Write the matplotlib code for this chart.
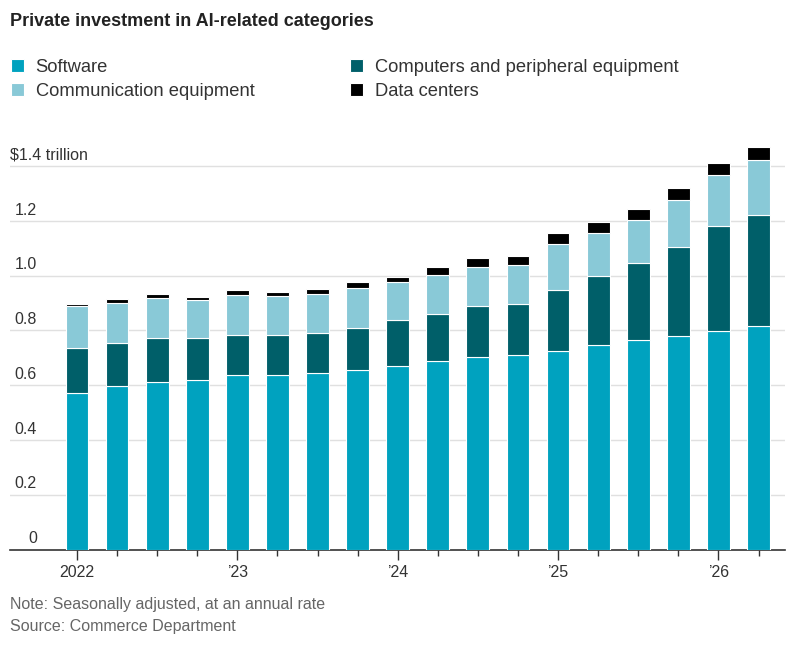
import matplotlib
matplotlib.use("Agg")
import matplotlib.pyplot as plt
import numpy as np

plt.rcParams['font.family'] = ['Liberation Sans Narrow', 'Liberation Sans', 'DejaVu Sans']

# quarterly values, $ trillion (2022 Q1 .. 2026 Q2)
quarters = ['2022', 'Q2', 'Q3', 'Q4', '\u201923', 'Q2', 'Q3', 'Q4', '\u201924', 'Q2', 'Q3', 'Q4',
            '\u201925', 'Q2', 'Q3', 'Q4', '\u201926', 'Q2']
software = [0.573, 0.597, 0.610, 0.619, 0.637, 0.637, 0.646, 0.657, 0.670,
            0.688, 0.702, 0.710, 0.725, 0.747, 0.765, 0.780, 0.798, 0.816]
computers = [0.164, 0.158, 0.163, 0.154, 0.146, 0.146, 0.146, 0.153, 0.168,
             0.173, 0.186, 0.187, 0.222, 0.250, 0.282, 0.326, 0.382, 0.404]
communication = [0.151, 0.146, 0.146, 0.139, 0.147, 0.142, 0.142, 0.146, 0.137,
                 0.141, 0.145, 0.141, 0.168, 0.159, 0.155, 0.169, 0.186, 0.201]
data_centers = [0.009, 0.013, 0.013, 0.011, 0.016, 0.016, 0.017, 0.021, 0.021,
                0.031, 0.032, 0.035, 0.040, 0.040, 0.040, 0.045, 0.045, 0.049]

yticks = [0, 0.2, 0.4, 0.6, 0.8, 1.0, 1.2, 1.4]

c_sw = '#00a2bf'
c_comp = '#005f69'
c_comm = '#89c9d7'
c_dc = '#000000'

fig = plt.figure(figsize=(7.97, 6.45), dpi=100)
ax = fig.add_axes([10 / 797, 1 - 549.5 / 645, 775 / 797, (549.5 - 144.1) / 645])

x = np.arange(len(quarters))
w = 0.57
sw = np.array(software)
cp = np.array(computers)
cm = np.array(communication)
dc = np.array(data_centers)

ekw = dict(edgecolor='white', linewidth=0.8, zorder=3)
b1 = ax.bar(x, sw, w, color=c_sw, label='Software', **ekw)
b2 = ax.bar(x, cp, w, bottom=sw, color=c_comp, label='Computers and peripheral equipment', **ekw)
b3 = ax.bar(x, cm, w, bottom=sw + cp, color=c_comm, label='Communication equipment', **ekw)
b4 = ax.bar(x, dc, w, bottom=sw + cp + cm, color=c_dc, label='Data centers', **ekw)

ax.set_xlim(-1.67, 17.66)
ax.set_ylim(0, 1.48)

# gridlines + labels sitting above them
for v in yticks[1:]:
    ax.axhline(v, color='#e0e0e0', lw=1, zorder=1)
trans = ax.get_yaxis_transform()
for v in yticks:
    if v == 1.4:
        ax.text(0.0, v + 0.012, '$1.4 trillion', transform=trans, ha='left', va='bottom',
                fontsize=11.5, color='#333333')
    else:
        lab = '0' if v == 0 else f'{v:.1f}'
        ax.text(0.0348, v + 0.012, lab, transform=trans, ha='right', va='bottom',
                fontsize=11.5, color='#333333')

for s in ['top', 'right', 'left']:
    ax.spines[s].set_visible(False)
ax.spines['bottom'].set_color('#333333')
ax.spines['bottom'].set_linewidth(1.2)
ax.set_yticks([])

major = [i for i, q in enumerate(quarters) if not q.startswith('Q')]
minor = [i for i, q in enumerate(quarters) if q.startswith('Q')]
ax.set_xticks(major)
ax.set_xticklabels([quarters[i] for i in major], fontsize=11.5, color='#333333')
ax.set_xticks(minor, minor=True)
ax.tick_params(axis='x', which='major', length=7, width=1, color='#333333', pad=4)
ax.tick_params(axis='x', which='minor', length=4, width=1, color='#333333')

fig.text(10 / 797, 1 - 21 / 645, 'Private investment in AI-related categories',
         fontsize=13, fontweight='bold', color='#222222', va='center', ha='left')

fig.legend(handles=[b1, b3, b2, b4], loc='upper left', ncol=2,
           bbox_to_anchor=(-6 / 797, 1 - 42 / 645), frameon=False,
           fontsize=13.2, handlelength=0.72, handleheight=0.72, handletextpad=0.65,
           columnspacing=5.2, labelspacing=0.4, labelcolor='#333333')

fig.text(10 / 797, 1 - 604 / 645, 'Note: Seasonally adjusted, at an annual rate',
         fontsize=11.5, color='#666666', va='center', ha='left')
fig.text(10 / 797, 1 - 626 / 645, 'Source: Commerce Department',
         fontsize=11.5, color='#666666', va='center', ha='left')

fig.savefig('out.png', dpi=100)
